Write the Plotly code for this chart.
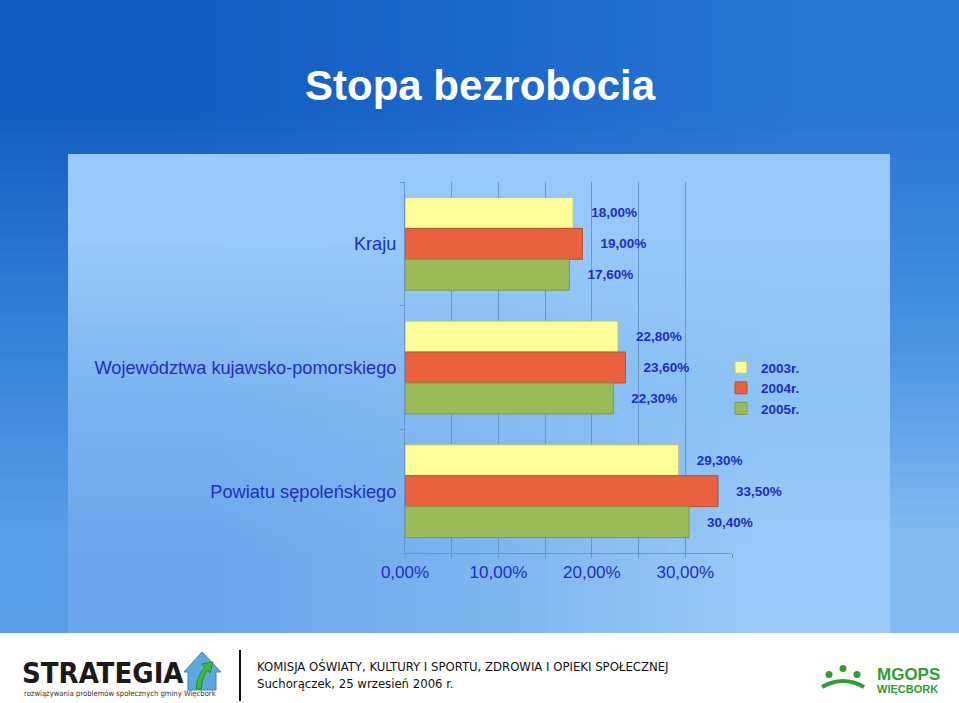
import base64, struct, zlib
import plotly.graph_objects as go

# ---------------- data ----------------
categories = ["Kraju", "Województwa kujawsko-pomorskiego", "Powiatu sępoleńskiego"]
series_names = ["2003r.", "2004r.", "2005r."]
values_2003 = [0.180, 0.228, 0.293]
values_2004 = [0.190, 0.236, 0.335]
values_2005 = [0.176, 0.223, 0.304]
x_tick_vals = [0.0, 0.1, 0.2, 0.3]

title_text = "Stopa bezrobocia"
footer_line1 = "KOMISJA OŚWIATY, KULTURY I SPORTU, ZDROWIA I OPIEKI SPOŁECZNEJ"
footer_line2 = "Suchorączek, 25 wrzesień 2006 r."
logo_text = "STRATEGIA"
logo_sub = "rozwiązywania problemów społecznych gminy Więcbork"
mgops_1 = "MGOPS"
mgops_2 = "WIĘCBORK"

# ---------------- styles ----------------
W, H = 959, 703
bar_colors = ["#FFFF99", "#E9613E", "#9BBB59"]
bar_lines = ["#C2BF72", "#B5502F", "#7E9A46"]
text_blue = "#1F2EBE"
grid_col = "#6895CC"
FONT = "Liberation Sans, Arial, sans-serif"
NARROW = "Liberation Sans Narrow, Arial Narrow, DejaVu Sans Condensed, sans-serif"


def px(x):
    return x / W


def py(y):
    return 1 - y / H


def png_uri(rows):
    h = len(rows)
    w = len(rows[0])
    raw = b"".join(b"\x00" + bytes([c for p in r for c in p]) for r in rows)

    def chunk(t, d):
        c = struct.pack(">I", len(d)) + t + d
        return c + struct.pack(">I", zlib.crc32(t + d) & 0xffffffff)

    data = b"\x89PNG\r\n\x1a\n" + chunk(b"IHDR", struct.pack(">IIBBBBB", w, h, 8, 2, 0, 0, 0)) \
        + chunk(b"IDAT", zlib.compress(raw)) + chunk(b"IEND", b"")
    return "data:image/png;base64," + base64.b64encode(data).decode()


def hx(s):
    s = s.lstrip("#")
    return tuple(int(s[i:i + 2], 16) for i in (0, 2, 4))


slide_grid = [["#135DC2", "#1D68CB", "#2A76D4"],
              ["#3380D8", "#3D88DC", "#4690E0"],
              ["#5A9DE7", "#68A8EB", "#82BAF1"]]
panel_grid = [["#9ACAFB", "#97C8FA", "#97C8F9"],
              ["#7BB4F0", "#84BBF3", "#8EC3F6"],
              ["#6BA6EC", "#7DB5F0", "#9BCAF8"]]

images = [
    dict(source=png_uri([[hx(c) for c in r] for r in slide_grid]), xref="paper", yref="paper",
         x=0, y=1, sizex=1, sizey=633 / H, xanchor="left", yanchor="top",
         sizing="stretch", layer="below"),
    dict(source=png_uri([[hx(c) for c in r] for r in panel_grid]), xref="paper", yref="paper",
         x=px(68), y=py(154), sizex=(890 - 68) / W, sizey=(633 - 154) / H,
         xanchor="left", yanchor="top", sizing="stretch", layer="below"),
]

fig = go.Figure()
for name, vals, col, lcol in zip(series_names, [values_2003, values_2004, values_2005], bar_colors, bar_lines):
    fig.add_trace(go.Bar(
        y=categories, x=vals, name=name, orientation="h",
        marker=dict(color=col, line=dict(color=lcol, width=1)),
        texttemplate="\u00a0\u00a0\u00a0\u00a0%{x:.2%}", textposition="outside",
        textfont=dict(family=FONT, size=13.5, color=text_blue, weight="bold"),
        cliponaxis=False, constraintext="none", hoverinfo="skip",
    ))

shapes = [
    dict(type="line", xref="paper", yref="paper", x0=px(240), x1=px(240), y0=py(650), y1=py(701),
         line=dict(color="#111111", width=2)),
    # house icon (STRATEGIA logo)
    dict(type="path", xref="paper", yref="paper",
         path="M {},{} L {},{} L {},{} L {},{} L {},{} L {},{} L {},{} Z".format(
             px(184), py(672), px(202), py(652), px(221), py(672), px(216), py(672),
             px(216), py(690), px(188), py(690), px(188), py(672)),
         fillcolor="#5FA8DD", line=dict(color="#3C84C0", width=1)),
    dict(type="path", xref="paper", yref="paper",
         path="M {},{} Q {},{} {},{} L {},{} L {},{} L {},{} L {},{} Q {},{} {},{} Z".format(
             px(196), py(689), px(198), py(672), px(205), py(668), px(202), py(664),
             px(213), py(662), px(210), py(673), px(208), py(670), px(203), py(674), px(201), py(689)),
         fillcolor="#3DBB3D", line=dict(color="#2A8F2A", width=1)),
    # MGOPS icon
    dict(type="circle", xref="paper", yref="paper", x0=px(825.5), x1=px(832.5), y0=py(671), y1=py(678),
         fillcolor="#2E9E33", line=dict(width=0)),
    dict(type="circle", xref="paper", yref="paper", x0=px(839.5), x1=px(846.5), y0=py(665), y1=py(672),
         fillcolor="#2E9E33", line=dict(width=0)),
    dict(type="circle", xref="paper", yref="paper", x0=px(853.5), x1=px(860.5), y0=py(671), y1=py(678),
         fillcolor="#2E9E33", line=dict(width=0)),
    dict(type="path", xref="paper", yref="paper",
         path="M {},{} Q {},{} {},{}".format(px(822), py(687), px(843), py(675), px(864), py(687)),
         line=dict(color="#2E9E33", width=4)),
]

annotations = [
    dict(text=title_text, x=px(480), y=py(86), xref="paper", yref="paper", showarrow=False,
         xanchor="center", yanchor="middle",
         font=dict(family=FONT, size=42, color="white", weight="bold")),
    dict(text=logo_text, x=px(20), y=py(673), xref="paper", yref="paper", showarrow=False,
         xanchor="left", yanchor="middle",
         font=dict(family=NARROW, size=29, color="#1A1A1A", weight="bold")),
    dict(text=logo_sub, x=px(22), y=py(693), xref="paper", yref="paper", showarrow=False,
         xanchor="left", yanchor="middle",
         font=dict(family=NARROW, size=7.6, color="#333333")),
    dict(text=footer_line1, x=px(255), y=py(666), xref="paper", yref="paper", showarrow=False,
         xanchor="left", yanchor="middle",
         font=dict(family=NARROW, size=13, color="#111111")),
    dict(text=footer_line2, x=px(255), y=py(683), xref="paper", yref="paper", showarrow=False,
         xanchor="left", yanchor="middle",
         font=dict(family=NARROW, size=13, color="#111111")),
    dict(text=mgops_1, x=px(875), y=py(674), xref="paper", yref="paper", showarrow=False,
         xanchor="left", yanchor="middle",
         font=dict(family=FONT, size=17, color="#2E9E33", weight="bold")),
    dict(text=mgops_2, x=px(875), y=py(689), xref="paper", yref="paper", showarrow=False,
         xanchor="left", yanchor="middle",
         font=dict(family=FONT, size=11, color="#2E9E33", weight="bold")),
]

fig.update_layout(
    width=W, height=H, margin=dict(l=0, r=0, t=0, b=0, autoexpand=False),
    paper_bgcolor="white", plot_bgcolor="rgba(0,0,0,0)",
    separators=", ",
    barmode="group", bargap=0.25, bargroupgap=0,
    images=images, shapes=shapes, annotations=annotations,
    showlegend=True,
    legend=dict(x=px(721), y=py(388), xanchor="left", yanchor="middle",
                traceorder="normal", bgcolor="rgba(0,0,0,0)", borderwidth=0,
                font=dict(family=FONT, size=13.5, color=text_blue, weight="bold")),
    xaxis=dict(domain=[px(405), px(732)], range=[0, 0.35], tickvals=x_tick_vals,
               tickformat=".2%", showgrid=True, gridcolor=grid_col, gridwidth=1,
               ticks="outside", ticklen=4, tickcolor=grid_col, automargin=False,
               minor=dict(dtick=0.05, tick0=0, showgrid=True, gridcolor=grid_col, ticks="outside",
                          ticklen=4, tickcolor=grid_col),
               showline=True, linecolor=grid_col, zeroline=False, fixedrange=True,
               tickfont=dict(family=FONT, size=17, color=text_blue)),
    yaxis=dict(domain=[py(553), py(182)], type="category", categoryarray=categories,
               autorange="reversed", tickson="boundaries", ticks="outside", ticklen=4,
               tickcolor=grid_col, showline=True, linecolor=grid_col, showgrid=False,
               fixedrange=True, automargin=False, ticklabelstandoff=4,
               tickfont=dict(family=FONT, size=18.2, color=text_blue)),
)

fig.write_html("out.html")
